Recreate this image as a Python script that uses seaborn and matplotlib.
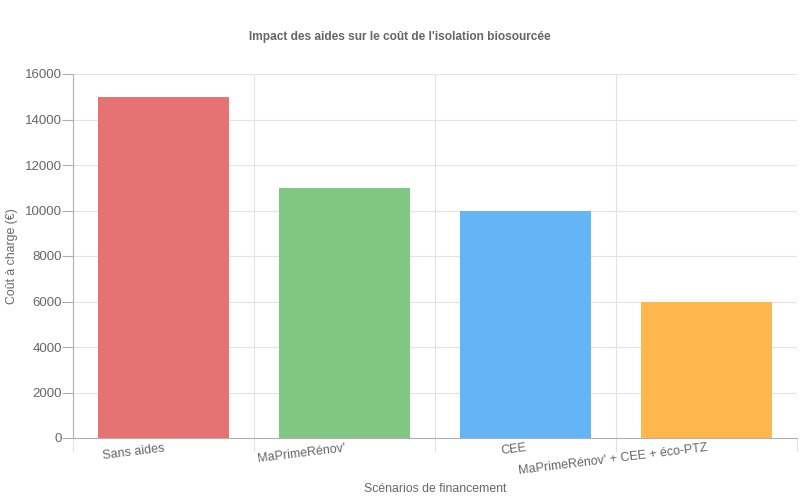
import matplotlib
matplotlib.use("Agg")
import matplotlib.pyplot as plt
import seaborn as sns
import pandas as pd

categories = ["Sans aides", "MaPrimeRénov'", "CEE", "MaPrimeRénov' + CEE + éco-PTZ"]
values = [15000, 11000, 10000, 6000]
colors = ["#e57373", "#81c784", "#64b5f6", "#ffb74d"]
yticks = [0, 2000, 4000, 6000, 8000, 10000, 12000, 14000, 16000]

sns.set_theme(style="white")
plt.rcParams['font.family'] = ['Liberation Sans', 'DejaVu Sans']

df = pd.DataFrame({"cat": categories, "val": values})

fig = plt.figure(figsize=(8, 5), dpi=100)
ax = fig.add_axes([73/800, 1-438/500, (797-73)/800, (438-74)/500])

sns.barplot(data=df, x="cat", y="val", hue="cat", palette=colors, saturation=1,
            width=0.72, legend=False, ax=ax, edgecolor="none")

ax.set_xlim(-0.5, 3.5)
ax.set_ylim(0, 16000)
ax.set_yticks(yticks)
ax.set_yticklabels([str(v) for v in yticks])

grid_c = "#e3e3e3"
ax.set_axisbelow(True)
ax.yaxis.grid(True, color=grid_c, linewidth=0.8)
ax.set_xticks([-0.5, 0.5, 1.5, 2.5, 3.5], minor=True)
ax.xaxis.grid(True, which="minor", color=grid_c, linewidth=0.8)
ax.xaxis.grid(False, which="major")

ax.set_xticks(range(len(categories)))
ax.set_xticklabels(categories, rotation=7, ha="right", rotation_mode="anchor")

for s in ["top", "right"]:
    ax.spines[s].set_visible(False)
ax.spines["left"].set_color("#b0b0b0")
ax.spines["bottom"].set_color("#b0b0b0")
ax.spines["left"].set_linewidth(0.8)
ax.spines["bottom"].set_linewidth(0.8)

ax.tick_params(axis="x", which="major", length=0, pad=3, labelsize=9, labelcolor="#666666")
ax.tick_params(axis="x", which="minor", bottom=True, length=10, color=grid_c, width=0.8, direction="out")
ax.tick_params(axis="y", left=True, length=8, color="#b0b0b0", width=0.8, pad=0, labelsize=9.5,
               labelcolor="#666666", direction="out")

ax.set_xlabel("")
ax.set_ylabel("")
fig.text(435/800, 1-489/500, "Scénarios de financement", ha="center", va="center",
         fontsize=8.8, color="#666666")
fig.text(12/800, 1-256/500, "Coût à charge (€)", ha="center", va="center", rotation=90,
         fontsize=8.8, color="#666666")

fig.text(400/800, 1-37/500, "Impact des aides sur le coût de l'isolation biosourcée",
         ha="center", va="center", fontsize=8.6, fontweight="bold", color="#666666")

fig.savefig("out.png", dpi=100)
